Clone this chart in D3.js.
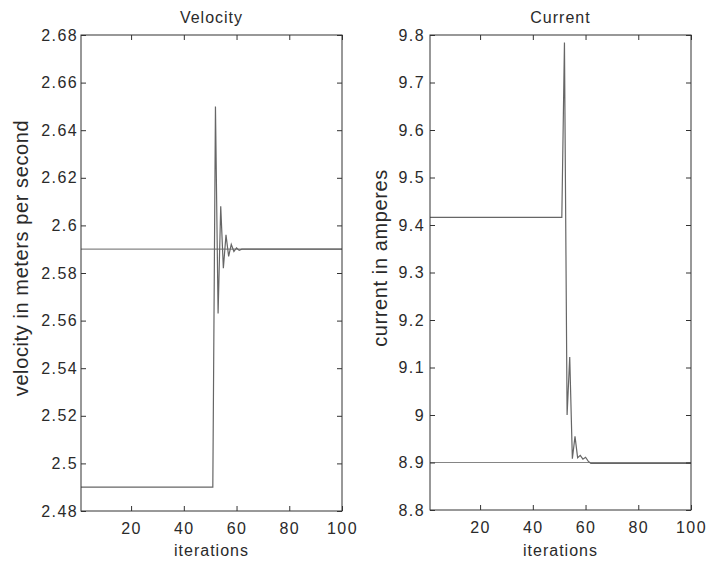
<!DOCTYPE html>
<html>
<head>
<meta charset="utf-8">
<script src="https://cdn.jsdelivr.net/npm/d3@7"></script>
<style>
  body { margin: 0; background: #fff; }
  text { font-family: "Liberation Sans", Arial, sans-serif; fill: #2a2a2a; }
</style>
</head>
<body>
<div id="chart"></div>
<script>
var svgWidth = 707;
var svgHeight = 563;

// tick values
var iterTicks = [20, 40, 60, 80, 100];
var velocityTicks = [2.48, 2.5, 2.52, 2.54, 2.56, 2.58, 2.6, 2.62, 2.64, 2.66, 2.68];
var currentTicks = [8.8, 8.9, 9, 9.1, 9.2, 9.3, 9.4, 9.5, 9.6, 9.7, 9.8];

// velocity response (flat runs given by their end points)
var velocityIter = [1, 51, 52, 53, 54, 55, 56, 57, 58, 59, 60, 61, 62, 100];
var velocityVal = [2.49, 2.49, 2.65, 2.563, 2.608, 2.582, 2.596, 2.587, 2.592, 2.589, 2.5905, 2.5895, 2.59, 2.59];
var velocityRef = 2.59;

// current response
var currentIter = [1, 51, 52, 53, 54, 55, 56, 57, 58, 59, 60, 61, 62, 100];
var currentVal = [9.416, 9.416, 9.784, 9.0, 9.122, 8.908, 8.955, 8.91, 8.915, 8.907, 8.911, 8.903, 8.898, 8.898];
var currentRef = 8.9;

var svg = d3.select("#chart")
  .append("svg")
  .attr("width", svgWidth)
  .attr("height", svgHeight);

var panels = [
  { title: "Velocity", ylabel: "velocity in meters per second",
    x0: 81, x1: 342, y0: 35, y1: 511, labelX: 28,
    domain: [2.48, 2.68], ticks: velocityTicks,
    iter: velocityIter, vals: velocityVal, ref: velocityRef },
  { title: "Current", ylabel: "current in amperes",
    x0: 430, x1: 691, y0: 35, y1: 510, labelX: 387,
    domain: [8.8, 9.8], ticks: currentTicks,
    iter: currentIter, vals: currentVal, ref: currentRef }
];

var fmt = function(d) { return String(+d.toFixed(2)); };

panels.forEach(function(p) {
  var xScale = d3.scaleLinear().domain([1, 100]).range([p.x0, p.x1]);
  var yScale = d3.scaleLinear().domain(p.domain).range([p.y1, p.y0]);

  var g = svg.append("g");

  // reference level across all iterations
  g.append("path")
    .datum([1, 100])
    .attr("fill", "none")
    .attr("stroke", "#858585")
    .attr("stroke-width", 1.2)
    .attr("d", d3.line().x(d => xScale(d)).y(() => yScale(p.ref)));

  // response
  g.append("path")
    .datum(p.iter.map((it, i) => [it, p.vals[i]]))
    .attr("fill", "none")
    .attr("stroke", "#666")
    .attr("stroke-width", 1.2)
    .attr("d", d3.line().x(d => xScale(d[0])).y(d => yScale(d[1])));

  // box
  g.append("rect")
    .attr("x", p.x0).attr("y", p.y0)
    .attr("width", p.x1 - p.x0).attr("height", p.y1 - p.y0)
    .attr("fill", "none").attr("stroke", "#333").attr("stroke-width", 1);

  // axes, inward ticks on all four sides
  var bottom = g.append("g")
    .attr("transform", `translate(0, ${p.y1})`)
    .call(d3.axisBottom(xScale).tickValues(iterTicks).tickSize(-5).tickSizeOuter(0).tickPadding(12));
  var left = g.append("g")
    .attr("transform", `translate(${p.x0}, 0)`)
    .call(d3.axisLeft(yScale).tickValues(p.ticks).tickFormat(fmt).tickSize(-5).tickSizeOuter(0).tickPadding(p.x0 > 200 ? 5 : 3));
  var top = g.append("g")
    .attr("transform", `translate(0, ${p.y0})`)
    .call(d3.axisTop(xScale).tickValues(iterTicks).tickFormat("").tickSize(-5).tickSizeOuter(0));
  var right = g.append("g")
    .attr("transform", `translate(${p.x1}, 0)`)
    .call(d3.axisRight(yScale).tickValues(p.ticks).tickFormat("").tickSize(-5).tickSizeOuter(0));

  [bottom, left, top, right].forEach(function(ax) {
    ax.attr("font-family", null).attr("font-size", 16);
    ax.select(".domain").remove();
    ax.selectAll(".tick line").attr("stroke", "#333");
    ax.selectAll(".tick text").attr("letter-spacing", 1.4);
  });

  // title
  g.append("text")
    .attr("x", (p.x0 + p.x1) / 2)
    .attr("y", 23)
    .attr("text-anchor", "middle")
    .attr("font-size", 16)
    .attr("letter-spacing", 1)
    .text(p.title);

  // x label
  g.append("text")
    .attr("x", (p.x0 + p.x1) / 2)
    .attr("y", 556)
    .attr("text-anchor", "middle")
    .attr("font-size", 16)
    .attr("letter-spacing", 1)
    .text("iterations");

  // y label
  g.append("text")
    .attr("transform", `translate(${p.labelX}, 258) rotate(-90)`)
    .attr("text-anchor", "middle")
    .attr("font-size", 20)
    .attr("letter-spacing", 0.6)
    .text(p.ylabel);
});
</script>
</body>
</html>
